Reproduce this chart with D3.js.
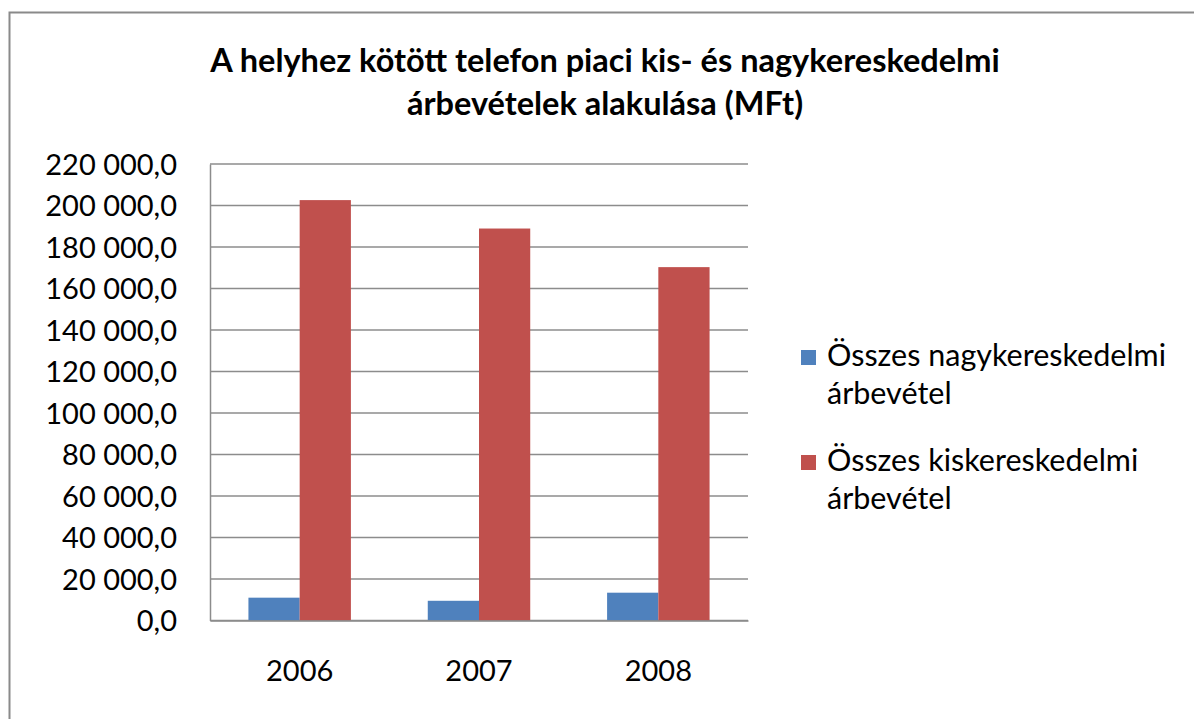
<!DOCTYPE html>
<html>
<head>
<meta charset="utf-8">
<script src="https://cdn.jsdelivr.net/npm/d3@7"></script>
<style>
body{margin:0;background:#fff;}
text{font-family:Lato,"Open Sans",sans-serif;fill:#000;}
</style>
</head>
<body>
<div id="chart"></div>
<script>
var years = ["2006", "2007", "2008"];
var seriesNames = ["Összes nagykereskedelmi árbevétel", "Összes kiskereskedelmi árbevétel"];
var wholesale = [11000, 9500, 13400];
var retail = [202600, 188900, 170300];
var yTicks = [0, 20000, 40000, 60000, 80000, 100000, 120000, 140000, 160000, 180000, 200000, 220000];
var titleLines = ["A helyhez kötött telefon piaci kis- és nagykereskedelmi", "árbevételek alakulása (MFt)"];
var legendLines = [["Összes nagykereskedelmi", "árbevétel"], ["Összes kiskereskedelmi", "árbevétel"]];
var colors = ["#4f81bd", "#c0504d"];

var width = 1194, height = 719;
var svg = d3.select("#chart")
            .append("svg")
            .attr("width", width)
            .attr("height", height);

// outer chart frame (only top and left visible in the crop)
svg.append("path")
   .attr("d", "M9.5," + height + "V12.5H" + width)
   .attr("fill", "none")
   .attr("stroke", "#8a8a8a")
   .attr("stroke-width", 2);

var x = d3.scaleBand()
          .domain(years)
          .range([210, 748])
          .paddingInner(0.4286)
          .paddingOuter(0.2143);

var xs = d3.scaleBand()
           .domain([0, 1])
           .range([0, x.bandwidth()]);

var y = d3.scaleLinear()
          .domain([0, 220000])
          .range([620.5, 164]);

var fmt = d3.formatLocale({decimal: ",", thousands: " ", grouping: [3], currency: ["", ""]}).format(",.1f");

// gridlines
svg.append("g")
   .selectAll("line")
   .data(yTicks)
   .enter()
   .append("line")
   .attr("x1", 210)
   .attr("x2", 748)
   .attr("y1", function(d){ return y(d); })
   .attr("y2", function(d){ return y(d); })
   .attr("stroke", "#8c8c8c")
   .attr("stroke-width", 1.5);

var yAxis = svg.append("g")
               .attr("transform", "translate(210,0)")
               .call(d3.axisLeft(y).tickValues(yTicks).tickFormat(fmt).tickSize(0).tickPadding(33));
yAxis.select(".domain").attr("stroke", "#8c8c8c").attr("stroke-width", 1.5);
yAxis.selectAll("text").style("font-size", "29px").attr("dy", "0.36em");

var rows = years.map(function(yr, i){ return {year: yr, vals: [wholesale[i], retail[i]]}; });

var groups = svg.append("g")
                .selectAll("g")
                .data(rows)
                .enter()
                .append("g")
                .attr("transform", function(d){ return "translate(" + x(d.year) + ",0)"; });

groups.selectAll("rect")
      .data(function(d){ return d.vals.map(function(v, k){ return {k: k, v: v}; }); })
      .enter()
      .append("rect")
      .attr("x", function(d){ return xs(d.k); })
      .attr("width", xs.bandwidth())
      .attr("y", function(d){ return y(d.v); })
      .attr("height", function(d){ return y(0) - y(d.v); })
      .attr("fill", function(d){ return colors[d.k]; });

var xAxis = svg.append("g")
               .attr("transform", "translate(0,620.5)")
               .call(d3.axisBottom(x).tickSize(0).tickPadding(40));
xAxis.select(".domain").attr("stroke", "#8c8c8c").attr("stroke-width", 1.5);
xAxis.selectAll("text").style("font-size", "29px");

// title
svg.append("g")
   .selectAll("text")
   .data(titleLines)
   .enter()
   .append("text")
   .attr("x", 605)
   .attr("y", function(d, i){ return 72 + i * 43; })
   .attr("text-anchor", "middle")
   .style("font-size", "32.5px")
   .style("font-weight", "bold")
   .text(function(d){ return d; });

// legend
var legend = svg.append("g")
                .selectAll("g")
                .data(legendLines)
                .enter()
                .append("g")
                .attr("transform", function(d, i){ return "translate(801," + (366 + i * 105) + ")"; });

legend.append("rect")
      .attr("x", 0)
      .attr("y", -16)
      .attr("width", 15)
      .attr("height", 15)
      .attr("fill", function(d, i){ return colors[i]; });

legend.selectAll("text")
      .data(function(d){ return d; })
      .enter()
      .append("text")
      .attr("x", 26)
      .attr("y", function(d, j){ return j * 38; })
      .style("font-size", "30.5px")
      .text(function(d){ return d; });
</script>
</body>
</html>
